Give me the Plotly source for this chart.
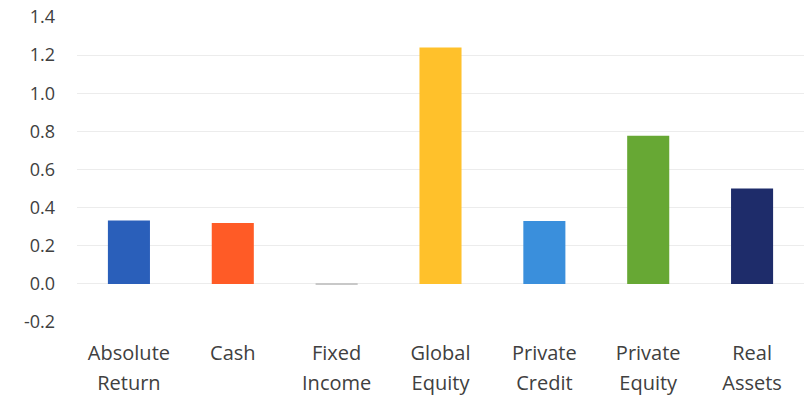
import plotly.graph_objects as go

categories = ["Absolute Return", "Cash", "Fixed Income", "Global Equity",
              "Private Credit", "Private Equity", "Real Assets"]
label_line1 = ["Absolute", "Cash", "Fixed", "Global", "Private", "Private", "Real"]
label_line2 = ["Return", "", "Income", "Equity", "Credit", "Equity", "Assets"]
values = [0.333, 0.32, -0.006, 1.24, 0.33, 0.777, 0.50]
colors = ["#2a5fba", "#ff5b26", "#c8c8c8", "#ffc12b", "#3a8fdc", "#67a834", "#1e2c6a"]
y_ticks = [-0.2, 0.0, 0.2, 0.4, 0.6, 0.8, 1.0, 1.2, 1.4]

FONT = "Open Sans, Liberation Sans, sans-serif"
TXT = "#404040"

fig = go.Figure()
fig.add_trace(go.Bar(
    x=categories, y=values, marker=dict(color=colors, line=dict(width=0)),
    width=0.405, hoverinfo="x+y",
))
# helper trace so the second-line label axis is drawn (invisible)
fig.add_trace(go.Scatter(
    x=list(range(len(categories))), y=values, xaxis="x2", yaxis="y",
    mode="markers", marker=dict(opacity=0, size=1), hoverinfo="skip",
    showlegend=False,
))

fig.update_layout(
    width=804, height=397,
    margin=dict(l=77, r=0, t=17, b=75),
    paper_bgcolor="white", plot_bgcolor="white",
    showlegend=False,
    font=dict(family=FONT, size=18, color=TXT),
    yaxis=dict(
        range=[-0.2, 1.4], tickvals=y_ticks, ticktext=[f"{v:.1f}" for v in y_ticks],
        showgrid=True, gridcolor="#ececec", gridwidth=1, zeroline=False,
        ticks="", ticklabelstandoff=21, showline=False,
        tickfont=dict(family=FONT, size=18, color=TXT),
    ),
    xaxis=dict(
        type="category", categoryarray=categories,
        tickvals=categories, ticktext=label_line1,
        showgrid=False, showline=False, ticks="", zeroline=False,
        tickfont=dict(family=FONT, size=20, color=TXT), tickangle=0,
        ticklabelstandoff=17,
    ),
    xaxis2=dict(
        overlaying="x", anchor="y", side="bottom",
        range=[-0.5, len(categories) - 0.5],
        tickvals=list(range(len(categories))), ticktext=label_line2,
        showgrid=False, showline=False, ticks="", zeroline=False,
        tickfont=dict(family=FONT, size=20, color=TXT), tickangle=0,
        ticklabelstandoff=47,
    ),
)

fig.write_html("out.html")
